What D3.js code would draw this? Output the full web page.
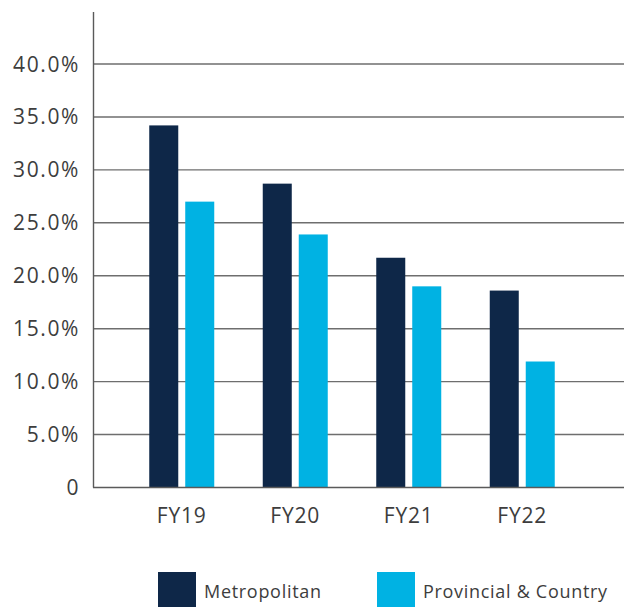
<!DOCTYPE html>
<html>
<head>
<meta charset="utf-8">
<script src="https://cdn.jsdelivr.net/npm/d3@7"></script>
<style>
  body { margin: 0; background: #fff; }
  svg text { font-family: "Open Sans", sans-serif; fill: #3d3d3d; }
</style>
</head>
<body>
<div id="chart"></div>
<script>
// data
var years = ["FY19", "FY20", "FY21", "FY22"];
var seriesNames = ["Metropolitan", "Provincial & Country"];
var metropolitan = [34.2, 28.7, 21.7, 18.6];
var provincial = [27.0, 23.9, 19.0, 11.9];
var yTicks = [0, 5, 10, 15, 20, 25, 30, 35, 40];
var colors = ["#0e2748", "#00b2e3"];

var width = 624, height = 607;

var svg = d3.select("#chart").append("svg")
    .attr("width", width)
    .attr("height", height);

// scales
var y = d3.scaleLinear().domain([0, 40]).range([487.5, 64]);

var x0 = d3.scaleBand().domain(years).range([125, 579]).padding(0);
var x1 = d3.scaleBand().domain(seriesNames).range([0, 65]).paddingInner(0.194);
var groupOffset = (x0.bandwidth() - 65) / 2;

// gridlines
svg.append("g")
    .selectAll("line")
    .data(yTicks.slice(1))
    .enter().append("line")
    .attr("x1", 93)
    .attr("x2", width)
    .attr("y1", function(d) { return y(d); })
    .attr("y2", function(d) { return y(d); })
    .attr("stroke", "#6e6e6e")
    .attr("stroke-width", 1.4);

// bars
var rows = years.map(function(yr, i) {
    return { year: yr, values: [metropolitan[i], provincial[i]] };
});

var groups = svg.selectAll(".grp")
    .data(rows)
    .enter().append("g")
    .attr("class", "grp")
    .attr("transform", function(d) { return "translate(" + (x0(d.year) + groupOffset) + ",0)"; });

groups.selectAll("rect")
    .data(function(d) { return d.values.map(function(v, j) { return { key: seriesNames[j], value: v, idx: j }; }); })
    .enter().append("rect")
    .attr("x", function(d) { return x1(d.key); })
    .attr("y", function(d) { return y(d.value); })
    .attr("width", x1.bandwidth())
    .attr("height", function(d) { return y(0) - y(d.value); })
    .attr("fill", function(d) { return colors[d.idx]; });

// baseline (x axis)
svg.append("line")
    .attr("x1", 93).attr("x2", width)
    .attr("y1", y(0)).attr("y2", y(0))
    .attr("stroke", "#5a5a5a")
    .attr("stroke-width", 1.4);

// y axis line
svg.append("line")
    .attr("x1", 93.5).attr("x2", 93.5)
    .attr("y1", 12).attr("y2", y(0))
    .attr("stroke", "#5a5a5a")
    .attr("stroke-width", 1.4);

// y tick labels
svg.append("g")
    .selectAll("text")
    .data(yTicks)
    .enter().append("text")
    .attr("x", 80)
    .attr("y", function(d) { return y(d); })
    .attr("dy", "0.36em")
    .attr("text-anchor", "end")
    .style("font-size", "21px")
    .style("letter-spacing", "1.6px")
    .text(function(d) { return d === 0 ? "0" : d.toFixed(1) + "%"; });

// x labels
svg.append("g")
    .selectAll("text")
    .data(years)
    .enter().append("text")
    .attr("x", function(d) { return x0(d) + x0.bandwidth() / 2; })
    .attr("y", 523)
    .attr("text-anchor", "middle")
    .style("font-size", "21px")
    .style("letter-spacing", "0.8px")
    .text(function(d) { return d; });

// legend
var legendX = [158, 377];
var legend = svg.selectAll(".legend")
    .data(seriesNames)
    .enter().append("g")
    .attr("class", "legend")
    .attr("transform", function(d, i) { return "translate(" + legendX[i] + ",572)"; });

legend.append("rect")
    .attr("width", 38)
    .attr("height", 35)
    .attr("fill", function(d, i) { return colors[i]; });

legend.append("text")
    .attr("x", 46)
    .attr("y", 26)
    .style("font-size", "18px")
    .style("letter-spacing", "0.7px")
    .text(function(d) { return d; });
</script>
</body>
</html>
